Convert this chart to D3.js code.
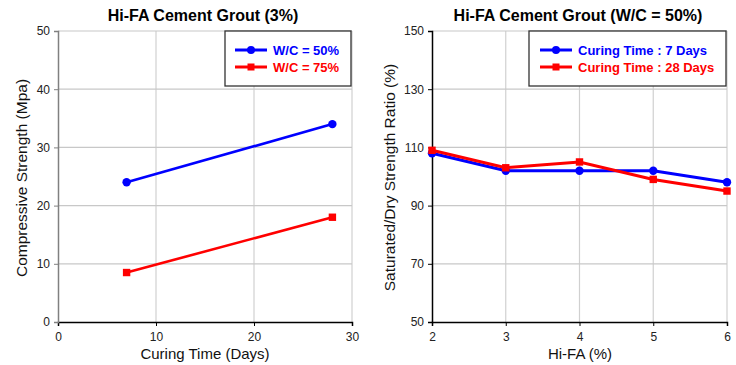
<!DOCTYPE html>
<html><head><meta charset="utf-8">
<script src="https://cdn.jsdelivr.net/npm/d3@7"></script>
<style>body{margin:0;background:#fff;} svg{display:block;font-family:"Liberation Sans",Arial,sans-serif;}</style>
</head><body>
<svg id="c" width="736" height="365"></svg>
<script>
// Left chart data
const curingDays = [7, 28];
const wc50 = [24, 34];
const wc75 = [8.5, 18];
const leftXTicks = [0, 10, 20, 30];
const leftYTicks = [0, 10, 20, 30, 40, 50];
// Right chart data
const hiFA = [2, 3, 4, 5, 6];
const cure7 = [108, 102, 102, 102, 98];
const cure28 = [109, 103, 105, 99, 95];
const rightXTicks = [2, 3, 4, 5, 6];
const rightYTicks = [50, 70, 90, 110, 130, 150];

const svg = d3.select("#c");
const BLUE = "#0000ff", RED = "#ff0000";

function chart(cfg) {
  const g = svg.append("g");
  const x = d3.scaleLinear().domain(cfg.xDomain).range([cfg.left, cfg.right]);
  const y = d3.scaleLinear().domain(cfg.yDomain).range([cfg.bottom, cfg.top]);
  // grid
  g.append("g").selectAll("line.gx").data(cfg.xTicks.filter(t => t !== cfg.xDomain[0]))
    .join("line").attr("x1", d => x(d)).attr("x2", d => x(d)).attr("y1", cfg.top).attr("y2", cfg.bottom)
    .attr("stroke", "#d0d0d0").attr("stroke-width", 1.2);
  g.append("g").selectAll("line.gy").data(cfg.yTicks.filter(t => t !== cfg.yDomain[0]))
    .join("line").attr("x1", cfg.left).attr("x2", cfg.right).attr("y1", d => y(d)).attr("y2", d => y(d))
    .attr("stroke", "#c8c8c8").attr("stroke-width", 1.2);
  // axes
  const xa = g.append("g").attr("transform", `translate(0,${cfg.bottom})`)
    .call(d3.axisBottom(x).tickValues(cfg.xTicks).tickSize(4).tickPadding(6).tickFormat(d3.format("d")));
  const ya = g.append("g").attr("transform", `translate(${cfg.left},0)`)
    .call(d3.axisLeft(y).tickValues(cfg.yTicks).tickSize(4).tickPadding(4).tickFormat(d3.format("d")));
  [xa, ya].forEach(a => {
    a.selectAll("text").attr("font-size", 12).attr("fill", "#222").attr("font-family", '"Liberation Sans",Arial,sans-serif');
    a.selectAll("line").attr("stroke", "#000");
  });
  xa.select(".domain").attr("stroke", "#000").attr("stroke-width", 1.5);
  ya.select(".domain").attr("stroke", cfg.yAxisColor).attr("stroke-width", 1.5);
  ya.selectAll(".tick line").attr("stroke", cfg.yAxisColor);
  // title
  g.append("text").attr("x", cfg.titleX).attr("y", 21).attr("text-anchor", "middle")
    .attr("font-size", 16).attr("font-weight", "bold").attr("fill", "#000").text(cfg.title);
  g.append("text").attr("x", cfg.xLabelX).attr("y", 359).attr("text-anchor", "middle")
    .attr("font-size", 15).attr("fill", "#111").text(cfg.xLabel);
  g.append("text").attr("transform", `translate(${cfg.yLabelX},${cfg.yLabelY}) rotate(-90)`)
    .attr("text-anchor", "middle").attr("font-size", cfg.yLabelSize).attr("fill", "#111").text(cfg.yLabel);
  // series
  const line = d3.line().x(d => x(d[0])).y(d => y(d[1]));
  cfg.series.forEach(s => {
    const pts = cfg.xs.map((v, i) => [v, s.values[i]]);
    g.append("path").datum(pts).attr("d", line).attr("fill", "none")
      .attr("stroke", s.color).attr("stroke-width", cfg.lineWidth);
    if (s.marker === "circle") {
      g.selectAll(null).data(pts).join("circle").attr("cx", d => x(d[0])).attr("cy", d => y(d[1]))
        .attr("r", 4.2).attr("fill", s.color);
    } else {
      g.selectAll(null).data(pts).join("rect").attr("x", d => x(d[0]) - 3.7).attr("y", d => y(d[1]) - 3.7)
        .attr("width", 7.4).attr("height", 7.4).attr("fill", s.color);
    }
  });
  // legend
  const L = cfg.legend;
  g.append("rect").attr("x", L.x).attr("y", L.y).attr("width", L.w).attr("height", L.h)
    .attr("fill", "#fff").attr("stroke", "#333").attr("stroke-width", 1.3);
  cfg.series.forEach((s, i) => {
    const cy = L.y + 19 + i * 17;
    g.append("line").attr("x1", L.lx1).attr("x2", L.lx2).attr("y1", cy).attr("y2", cy)
      .attr("stroke", s.color).attr("stroke-width", 3);
    const mx = (L.lx1 + L.lx2) / 2;
    if (s.marker === "circle") g.append("circle").attr("cx", mx).attr("cy", cy).attr("r", 4).attr("fill", s.color);
    else g.append("rect").attr("x", mx - 3.5).attr("y", cy - 3.5).attr("width", 7).attr("height", 7).attr("fill", s.color);
    g.append("text").attr("x", L.tx).attr("y", cy + 4.5).attr("font-size", 13).attr("font-weight", "bold")
      .attr("fill", s.color).text(s.name);
  });
}

chart({
  left: 58, right: 352, top: 31, bottom: 322,
  xDomain: [0, 30], yDomain: [0, 50], xTicks: leftXTicks, yTicks: leftYTicks,
  yAxisColor: "#808080", lineWidth: 2.6,
  title: "Hi-FA Cement Grout (3%)", titleX: 203,
  xLabel: "Curing Time (Days)", xLabelX: 205,
  yLabel: "Compressive Strength (Mpa)", yLabelX: 27, yLabelY: 178, yLabelSize: 15.5,
  xs: curingDays,
  series: [
    {name: "W/C = 50%", values: wc50, color: BLUE, marker: "circle"},
    {name: "W/C = 75%", values: wc75, color: RED, marker: "square"}
  ],
  legend: {x: 225, y: 31, w: 126, h: 55, lx1: 235, lx2: 267, tx: 273}
});

chart({
  left: 432, right: 727, top: 31, bottom: 322,
  xDomain: [2, 6], yDomain: [50, 150], xTicks: rightXTicks, yTicks: rightYTicks,
  yAxisColor: "#000", lineWidth: 3,
  title: "Hi-FA Cement Grout (W/C = 50%)", titleX: 578,
  xLabel: "Hi-FA (%)", xLabelX: 580,
  yLabel: "Saturated/Dry Strength Ratio (%)", yLabelX: 395, yLabelY: 177.5, yLabelSize: 15.5,
  xs: hiFA,
  series: [
    {name: "Curing Time : 7 Days", values: cure7, color: BLUE, marker: "circle"},
    {name: "Curing Time : 28 Days", values: cure28, color: RED, marker: "square"}
  ],
  legend: {x: 529, y: 31, w: 197, h: 55, lx1: 540, lx2: 572, tx: 578}
});
</script>
</body></html>
